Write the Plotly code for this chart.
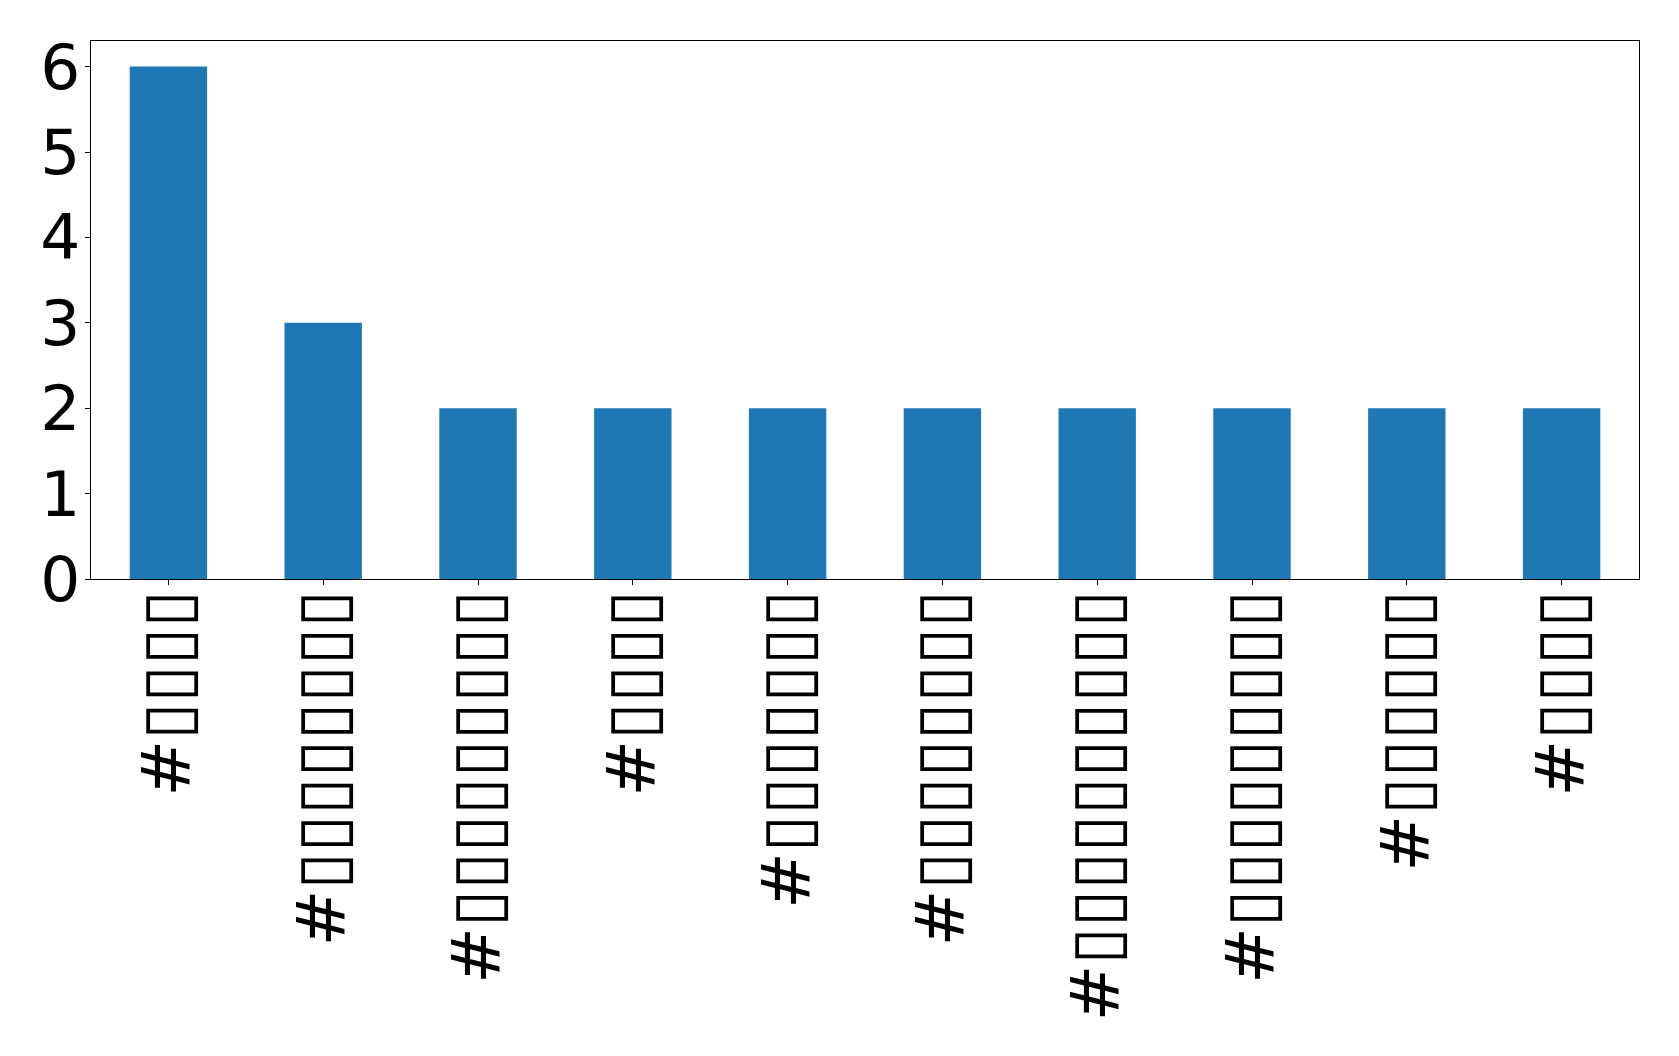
import plotly.graph_objects as go

# Labels render as "#" followed by missing-glyph boxes in the reference
box_counts = [4, 8, 9, 4, 7, 8, 10, 9, 6, 4]
categories = ["#" + "\u25AF" * n for n in box_counts]
values = [6, 3, 2, 2, 2, 2, 2, 2, 2, 2]
y_ticks = [0, 1, 2, 3, 4, 5, 6]

fig = go.Figure(
    go.Bar(
        x=list(range(len(categories))),
        y=values,
        width=0.5,
        marker=dict(color="#1f77b4", line=dict(width=0)),
    )
)

font_family = "DejaVu Sans"
fig.update_layout(
    width=1679,
    height=1056,
    paper_bgcolor="white",
    plot_bgcolor="white",
    margin=dict(l=83, r=48, t=33, b=485, autoexpand=False),
    showlegend=False,
    font=dict(family=font_family, color="black"),
)
fig.update_xaxes(
    range=[-0.5, 9.5],
    tickmode="array",
    tickvals=list(range(len(categories))),
    ticktext=categories,
    tickangle=-90,
    tickfont=dict(size=68, family=font_family, color="black"),
    ticks="outside",
    ticklen=5,
    tickwidth=1,
    tickcolor="black",
    ticklabelstandoff=-22,
    showline=True,
    linecolor="black",
    linewidth=1,
    mirror=True,
    showgrid=False,
    zeroline=False,
)
fig.update_yaxes(
    range=[0, 6.3],
    tickmode="array",
    tickvals=y_ticks,
    ticktext=[str(v) for v in y_ticks],
    tickfont=dict(size=63, family=font_family, color="black"),
    ticks="outside",
    ticklen=5,
    tickwidth=1,
    tickcolor="black",
    ticklabelstandoff=-8,
    showline=True,
    linecolor="black",
    linewidth=1,
    mirror=True,
    showgrid=False,
    zeroline=False,
)

fig.write_html("out.html")
